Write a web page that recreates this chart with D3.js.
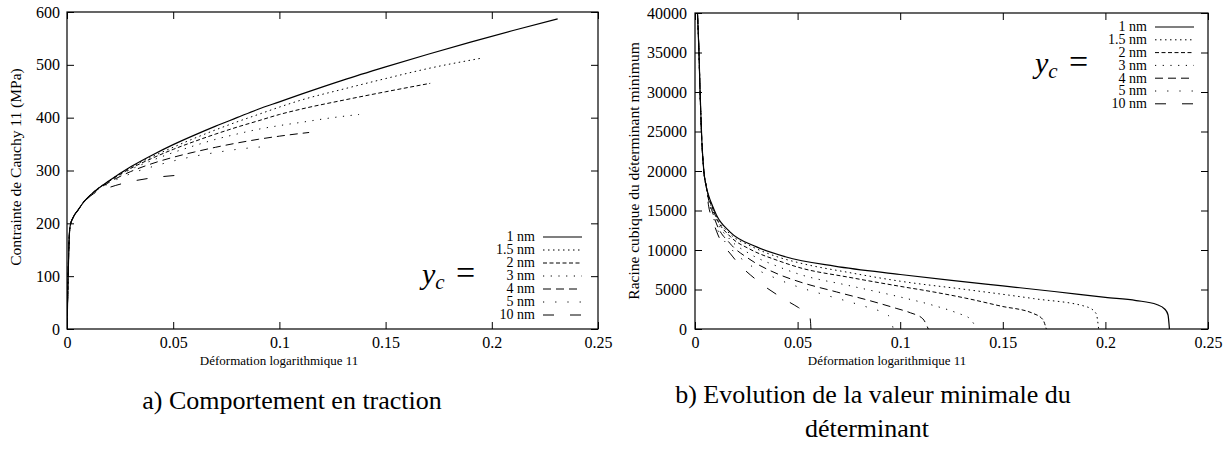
<!DOCTYPE html>
<html>
<head>
<meta charset="utf-8">
<script src="https://cdn.jsdelivr.net/npm/d3@7"></script>
<style>
  body { margin: 0; background: #fff; }
  svg { display: block; }
</style>
</head>
<body>
<svg id="area" width="1229" height="451"></svg>
<script>
const sizes = ['1 nm', '1.5 nm', '2 nm', '3 nm', '4 nm', '5 nm', '10 nm'];
const xTicks = [0, 0.05, 0.1, 0.15, 0.2, 0.25];
const stressTicks = [0, 100, 200, 300, 400, 500, 600];
const detTicks = [0, 5000, 10000, 15000, 20000, 25000, 30000, 35000, 40000];

// a) contrainte de Cauchy 11 (MPa) vs deformation logarithmique 11
const stress1 = [[0, 0], [0.0005, 95], [0.001, 170], [0.0015, 195], [0.003, 212], [0.005, 224], [0.008, 241], [0.0125, 259], [0.02, 281], [0.03, 307], [0.04, 329], [0.05, 349], [0.06, 367], [0.07, 384], [0.08, 400], [0.09, 416], [0.1, 430], [0.11, 444], [0.13, 471], [0.15, 496], [0.17, 520], [0.19, 543], [0.21, 565], [0.231, 587]];
const stress15 = [[0, 0], [0.0005, 95], [0.001, 170], [0.0015, 195], [0.003, 212], [0.005, 224], [0.008, 241], [0.0125, 259], [0.02, 281], [0.03, 306], [0.04, 326], [0.05, 344], [0.06, 361], [0.07, 377], [0.08, 392], [0.09, 406], [0.1, 420], [0.11, 433], [0.13, 454], [0.15, 474], [0.17, 493], [0.1957, 513]];
const stress2 = [[0, 0], [0.0005, 95], [0.001, 170], [0.0015, 195], [0.003, 212], [0.005, 224], [0.008, 241], [0.0125, 259], [0.02, 280], [0.03, 304], [0.04, 323], [0.05, 340], [0.06, 355], [0.07, 369], [0.08, 382], [0.09, 394], [0.1, 406], [0.11, 416], [0.13, 433], [0.15, 449], [0.171, 465]];
const stress3 = [[0, 0], [0.0005, 95], [0.001, 170], [0.0015, 195], [0.003, 212], [0.005, 224], [0.008, 241], [0.0125, 259], [0.02, 280], [0.03, 302], [0.04, 319], [0.05, 334], [0.06, 347], [0.07, 359], [0.08, 369], [0.09, 378], [0.1, 385], [0.11, 391], [0.125, 400], [0.1375, 406]];
const stress4 = [[0, 0], [0.0005, 95], [0.001, 170], [0.0015, 195], [0.003, 212], [0.005, 224], [0.008, 241], [0.0125, 258], [0.02, 278], [0.03, 298], [0.04, 313], [0.05, 325], [0.06, 335], [0.07, 344], [0.08, 352], [0.09, 359], [0.1, 365], [0.114, 372]];
const stress5 = [[0, 0], [0.0005, 95], [0.001, 170], [0.0015, 195], [0.003, 212], [0.005, 224], [0.008, 241], [0.0125, 257], [0.02, 276], [0.03, 294], [0.04, 307], [0.05, 318], [0.06, 327], [0.07, 334], [0.08, 340], [0.0956, 346]];
const stress10 = [[0, 0], [0.0005, 95], [0.001, 170], [0.0015, 195], [0.003, 212], [0.005, 224], [0.008, 240], [0.0125, 256], [0.02, 268], [0.03, 279], [0.04, 286], [0.0556, 292]];

// b) racine cubique du determinant minimum vs deformation logarithmique 11
const det1 = [[0.0012, 40000], [0.0019, 35300], [0.0025, 29800], [0.0033, 24000], [0.0043, 20000], [0.0055, 18000], [0.0065, 17000], [0.0085, 15600], [0.0105, 14400], [0.017, 12300], [0.03, 10400], [0.044, 9150], [0.068, 7950], [0.1, 6900], [0.125, 6150], [0.15, 5450], [0.175, 4750], [0.2, 4000], [0.215, 3600], [0.225, 3100], [0.229, 2500], [0.2305, 1800], [0.2312, 0]];
const det15 = [[0.0012, 40000], [0.0019, 35300], [0.0025, 29800], [0.0033, 24000], [0.0043, 20000], [0.0055, 18000], [0.0065, 16900], [0.0085, 15450], [0.0105, 14200], [0.017, 12050], [0.0268, 10550], [0.04, 9150], [0.0512, 8350], [0.075, 7150], [0.1, 6050], [0.132, 5000], [0.165, 3850], [0.191, 2800], [0.1955, 1950], [0.1967, 0]];
const det2 = [[0.0012, 40000], [0.0019, 35300], [0.0025, 29800], [0.0033, 24000], [0.0043, 20000], [0.0055, 18000], [0.0065, 16800], [0.0085, 15300], [0.0105, 14000], [0.017, 11750], [0.0268, 10100], [0.04, 8700], [0.0512, 7750], [0.075, 6550], [0.1, 5400], [0.116, 4700], [0.132, 3900], [0.149, 2900], [0.165, 1950], [0.1695, 1200], [0.1712, 0]];
const det3 = [[0.0012, 40000], [0.0019, 35300], [0.0025, 29800], [0.0033, 24000], [0.0043, 20000], [0.0055, 18000], [0.0065, 16700], [0.0085, 15100], [0.0105, 13700], [0.017, 11350], [0.0268, 9500], [0.04, 7950], [0.0512, 6900], [0.075, 5500], [0.1, 4050], [0.116, 3000], [0.128, 2000], [0.134, 1300], [0.1373, 0]];
const det4 = [[0.0012, 40000], [0.0019, 35300], [0.0025, 29800], [0.0033, 24000], [0.0043, 20000], [0.0055, 18000], [0.0065, 16500], [0.0085, 14800], [0.0105, 13300], [0.017, 10850], [0.0268, 8800], [0.04, 7000], [0.0512, 5950], [0.069, 4690], [0.085, 3600], [0.098, 2620], [0.105, 2050], [0.111, 1300], [0.1137, 0]];
const det5 = [[0.0012, 40000], [0.0019, 35300], [0.0025, 29800], [0.0033, 24000], [0.0043, 20000], [0.0055, 18000], [0.0065, 16300], [0.0085, 14500], [0.0105, 12900], [0.017, 10350], [0.0268, 8100], [0.04, 6350], [0.0512, 5250], [0.0609, 4500], [0.0755, 3420], [0.0837, 2790], [0.091, 2150], [0.095, 1500], [0.0966, 0]];
const det10 = [[0.0012, 40000], [0.0019, 35300], [0.0025, 29800], [0.0033, 24000], [0.0043, 20000], [0.0055, 18000], [0.0065, 15800], [0.0085, 13900], [0.0106, 12300], [0.0185, 9120], [0.0307, 6050], [0.0414, 4100], [0.0505, 2700], [0.0557, 1800], [0.0563, 900], [0.0565, 0]];

const dashes = [null, '1.5,3.5', '4,2.5', '1.2,6.5', '8,5', '1.2,11', '11,16'];
const serif = "'Liberation Serif', serif";

function drawPanel(svg, series, p) {
  const x = d3.scaleLinear([0, 0.25], [p.left, p.right]);
  const y = d3.scaleLinear(p.yDomain, [p.bottom, p.top]);

  svg.append('clipPath').attr('id', p.id)
    .append('rect')
    .attr('x', p.left)
    .attr('y', p.top)
    .attr('width', p.right - p.left)
    .attr('height', p.bottom - p.top);

  // axes, ticks inward on all four sides
  const axes = svg.append('g');
  axes.append('g')
    .attr('transform', `translate(0,${p.bottom})`)
    .call(d3.axisBottom(x).tickValues(xTicks).tickFormat((d) => String(d)).tickSize(-7).tickPadding(8));
  axes.append('g')
    .attr('transform', `translate(0,${p.top})`)
    .call(d3.axisTop(x).tickValues(xTicks).tickFormat('').tickSize(-7));
  axes.append('g')
    .attr('transform', `translate(${p.left},0)`)
    .call(d3.axisLeft(y).tickValues(p.yTicks).tickFormat(d3.format('d')).tickSize(-7).tickPadding(p.yPad));
  axes.append('g')
    .attr('transform', `translate(${p.right},0)`)
    .call(d3.axisRight(y).tickValues(p.yTicks).tickFormat('').tickSize(-7));
  axes.selectAll('.domain').remove();
  axes.selectAll('g').attr('font-family', null).attr('font-size', null);
  axes.selectAll('text')
    .style('font-family', serif)
    .style('font-size', '16px');

  svg.append('rect')
    .attr('x', p.left)
    .attr('y', p.top)
    .attr('width', p.right - p.left)
    .attr('height', p.bottom - p.top)
    .attr('fill', 'none')
    .attr('stroke', '#000')
    .attr('stroke-width', 1.2);

  // curves
  const line = d3.line()
    .x((d) => x(d[0]))
    .y((d) => y(d[1]))
    .curve(d3.curveMonotoneX);
  svg.append('g')
    .attr('clip-path', `url(#${p.id})`)
    .selectAll('path')
    .data(series)
    .join('path')
    .attr('d', line)
    .attr('fill', 'none')
    .attr('stroke', '#000')
    .attr('stroke-width', (d, i) => (i === 0 ? 1.2 : 1))
    .attr('stroke-dasharray', (d, i) => dashes[i]);

  // axis labels
  svg.append('text')
    .attr('x', p.xLabelX)
    .attr('y', 365)
    .attr('text-anchor', 'middle')
    .style('font-family', serif)
    .style('font-size', '13px')
    .text('Déformation logarithmique 11');
  svg.append('text')
    .attr('transform', `translate(${p.yLabelX},${p.yLabelY}) rotate(-90)`)
    .attr('text-anchor', 'middle')
    .style('font-family', serif)
    .style('font-size', '15.5px')
    .text(p.yLabel);

  // legend
  const rows = svg.append('g')
    .selectAll('g')
    .data(sizes)
    .join('g')
    .attr('transform', (d, i) => `translate(${p.legendX},${p.legendY + i * p.legendStep})`);
  rows.append('text')
    .attr('text-anchor', 'end')
    .attr('dy', '0.32em')
    .style('font-family', serif)
    .style('font-size', '14px')
    .text((d) => d);
  rows.append('line')
    .attr('x1', 8)
    .attr('x2', 47)
    .attr('stroke', '#000')
    .attr('stroke-width', (d, i) => (i === 0 ? 1.2 : 1))
    .attr('stroke-dasharray', (d, i) => dashes[i]);

  // y_c =
  const yc = svg.append('text')
    .attr('x', p.ycX)
    .attr('y', p.ycY)
    .style('font-family', serif)
    .style('font-size', '30px');
  yc.append('tspan').style('font-style', 'italic').text('y');
  yc.append('tspan').style('font-style', 'italic').style('font-size', '21px').attr('dy', 5).text('c');
  yc.append('tspan').attr('x', p.ycX + 34).attr('dy', -5).style('font-size', '34px').text('=');
}

const svg = d3.select('#area');
svg.append('rect').attr('width', 1229).attr('height', 451).attr('fill', '#fff');

drawPanel(svg, [stress1, stress15, stress2, stress3, stress4, stress5, stress10], {
  id: 'clipA',
  left: 67,
  right: 598,
  top: 12,
  bottom: 329,
  yDomain: [0, 600],
  yTicks: stressTicks,
  yPad: 7,
  xLabelX: 279,
  yLabelX: 21,
  yLabelY: 167,
  yLabel: 'Contrainte de Cauchy 11 (MPa)',
  legendX: 535,
  legendY: 237,
  legendStep: 13,
  ycX: 422,
  ycY: 284,
});

drawPanel(svg, [det1, det15, det2, det3, det4, det5, det10], {
  id: 'clipB',
  left: 695,
  right: 1208,
  top: 13,
  bottom: 329,
  yDomain: [0, 40000],
  yTicks: detTicks,
  yPad: 8,
  xLabelX: 887,
  yLabelX: 639,
  yLabelY: 171,
  yLabel: 'Racine cubique du déterminant minimum',
  legendX: 1147,
  legendY: 27,
  legendStep: 12.8,
  ycX: 1035,
  ycY: 73,
});

// captions
const caption = svg.append('g');
caption.append('text').attr('x', 292).attr('y', 409).text('a) Comportement en traction');
caption.append('text').attr('x', 873).attr('y', 403).text('b) Evolution de la valeur minimale du');
caption.append('text').attr('x', 867).attr('y', 437).text('déterminant');
caption.selectAll('text')
  .attr('text-anchor', 'middle')
  .style('font-family', serif)
  .style('font-size', '26px');
</script>
</body>
</html>
